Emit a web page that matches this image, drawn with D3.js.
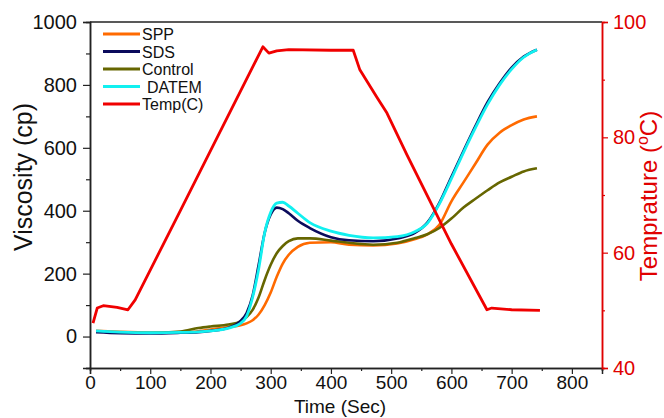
<!DOCTYPE html>
<html>
<head>
<meta charset="utf-8">
<script src="https://cdn.jsdelivr.net/npm/d3@7"></script>
<style>
  body { margin: 0; background: #fff; }
  text { font-family: "Liberation Sans", Arial, sans-serif; }
</style>
</head>
<body>
<script>
// time grid shared by the viscosity curves (sec)
const times = [10, 50, 100, 150, 180, 200, 230, 250, 260, 270, 280, 290, 300, 310, 320, 330, 345, 365, 400, 430, 470, 510, 540, 560, 580, 600, 620, 640, 660, 680, 700, 720, 742];

// viscosity (cp)
const spp     = [18, 15, 13, 13, 17, 22, 30, 36, 42, 52, 70, 100, 140, 190, 232, 260, 285, 298, 300, 292, 290, 296, 310, 325, 355, 430, 490, 550, 610, 648, 672, 690, 700];
const sds     = [14, 11, 10, 12, 14, 18, 28, 50, 75, 130, 228, 330, 388, 410, 405, 392, 368, 345, 316, 306, 303, 312, 330, 362, 425, 508, 590, 670, 745, 805, 855, 890, 912];
const control = [16, 13, 12, 16, 27, 32, 38, 48, 62, 85, 125, 180, 228, 265, 288, 303, 312, 312, 305, 298, 292, 298, 313, 325, 345, 375, 410, 438, 465, 490, 508, 525, 535];
const datem   = [18, 14, 12, 13, 15, 18, 27, 42, 65, 125, 215, 330, 395, 424, 427, 415, 392, 362, 335, 322, 314, 318, 334, 360, 422, 502, 585, 664, 738, 800, 850, 888, 912];

// temperature (C)
const tempTime = [5, 12, 22, 45, 63, 75, 150, 220, 287, 297, 310, 330, 400, 437, 448, 476, 493, 526, 600, 659, 667, 700, 747];
const tempVal  = [47.8, 50.4, 50.8, 50.5, 50.1, 51.8, 67.3, 81.8, 95.7, 94.6, 95.0, 95.2, 95.1, 95.1, 91.7, 87.0, 84.2, 77.0, 61.5, 50.1, 50.4, 50.1, 50.0];

const seriesNames = ["SPP", "SDS", "Control", "DATEM", "Temp(C)"];
const seriesColors = ["#ff6a00", "#0b0b5c", "#666600", "#11f0f0", "#f00000"];

const width = 664, height = 418;
const margin = { left: 90, right: 62, top: 22, bottom: 50 };

const svg = d3.select("body")
    .append("svg")
    .attr("width", width)
    .attr("height", height);

svg.append("rect").attr("width", width).attr("height", height).attr("fill", "#fff");

const x = d3.scaleLinear().domain([0, 850]).range([margin.left, width - margin.right]);
const y = d3.scaleLinear().domain([-100, 1000]).range([height - margin.bottom, margin.top]);
const yT = d3.scaleLinear().domain([40, 100]).range([height - margin.bottom, margin.top]);

// top frame line
svg.append("line")
    .attr("x1", x(0)).attr("x2", x(850))
    .attr("y1", y(1000)).attr("y2", y(1000))
    .attr("stroke", "#222").attr("stroke-width", 1.5);

// bottom axis
svg.append("g")
    .attr("class", "xaxis")
    .attr("transform", `translate(0,${y(-100)})`)
    .call(d3.axisBottom(x).tickValues(d3.range(0, 801, 100)).tickSize(6).tickPadding(2));
svg.append("g")
    .attr("transform", `translate(0,${y(-100)})`)
    .call(d3.axisBottom(x).tickValues(d3.range(50, 851, 100)).tickSize(3).tickFormat(""));

// left axis
svg.append("g")
    .attr("transform", `translate(${x(0)},0)`)
    .call(d3.axisLeft(y).tickValues(d3.range(0, 1001, 200)).tickFormat(d3.format("d")).tickSize(7).tickPadding(6));
svg.append("g")
    .attr("transform", `translate(${x(0)},0)`)
    .call(d3.axisLeft(y).tickValues(d3.range(-100, 1000, 200)).tickSize(4).tickFormat(""));

// right axis (temperature)
svg.append("g")
    .attr("class", "raxis")
    .attr("transform", `translate(${x(850)},0)`)
    .call(d3.axisRight(yT).tickValues([40, 60, 80, 100]).tickSize(6).tickPadding(5));
svg.append("g")
    .attr("class", "raxis")
    .attr("transform", `translate(${x(850)},0)`)
    .call(d3.axisRight(yT).tickValues([50, 70, 90]).tickSize(3).tickFormat(""));

svg.selectAll(".domain").attr("stroke", "#222").attr("stroke-width", 1.5);
svg.selectAll(".tick line").attr("stroke", "#222").attr("stroke-width", 1.2);
svg.selectAll(".tick text").attr("font-size", 20).attr("fill", "#111")
    .style("font-family", "'Liberation Sans', Arial, sans-serif");
svg.selectAll(".xaxis .tick text").attr("font-size", 19);
svg.selectAll(".raxis .domain").attr("stroke", "#e00000");
svg.selectAll(".raxis .tick line").attr("stroke", "#e00000");
svg.selectAll(".raxis .tick text").attr("fill", "#e00000");

// axis titles
svg.append("text")
    .attr("transform", "translate(32,177) rotate(-90)")
    .attr("text-anchor", "middle")
    .attr("font-size", 25)
    .attr("fill", "#111")
    .text("Viscosity (cp)");

svg.append("text")
    .attr("x", 340).attr("y", 413)
    .attr("text-anchor", "middle")
    .attr("font-size", 19)
    .attr("fill", "#111")
    .text("Time (Sec)");

const tTitle = svg.append("text")
    .attr("transform", "translate(657,196) rotate(-90)")
    .attr("text-anchor", "middle")
    .attr("font-size", 24)
    .attr("fill", "#e00000");
tTitle.append("tspan").text("Temprature (");
tTitle.append("tspan").attr("font-size", 16).attr("dy", -9).text("o");
tTitle.append("tspan").attr("dy", 9).text("C)");

// curves
const line = d3.line()
    .x(d => x(d[0]))
    .y(d => y(d[1]))
    .curve(d3.curveMonotoneX);

const viscSeries = [
    { name: "SPP", values: spp, color: seriesColors[0], w: 2.6 },
    { name: "Control", values: control, color: seriesColors[2], w: 2.6 },
    { name: "SDS", values: sds, color: seriesColors[1], w: 2.6 },
    { name: "DATEM", values: datem, color: seriesColors[3], w: 2.8 }
];

svg.append("g")
    .selectAll("path")
    .data(viscSeries)
    .enter()
    .append("path")
    .attr("d", d => line(times.map((t, i) => [t, d.values[i]])))
    .attr("fill", "none")
    .attr("stroke", d => d.color)
    .attr("stroke-width", d => d.w)
    .attr("stroke-linejoin", "round");

const tempLine = d3.line()
    .x(d => x(d[0]))
    .y(d => yT(d[1]));

svg.append("path")
    .attr("d", tempLine(tempTime.map((t, i) => [t, tempVal[i]])))
    .attr("fill", "none")
    .attr("stroke", seriesColors[4])
    .attr("stroke-width", 2.8)
    .attr("stroke-linejoin", "round");

// legend
const legend = svg.append("g")
    .selectAll("g")
    .data(seriesNames)
    .enter()
    .append("g")
    .attr("transform", (d, i) => `translate(103,${34 + i * 17.5})`);

legend.append("line")
    .attr("x1", 0).attr("x2", 37)
    .attr("stroke", (d, i) => seriesColors[i])
    .attr("stroke-width", 3);

legend.append("text")
    .attr("x", (d, i) => i === 3 ? 44 : 39)
    .attr("y", 6)
    .attr("font-size", 16)
    .attr("fill", "#111")
    .text(d => d);
</script>
</body>
</html>
